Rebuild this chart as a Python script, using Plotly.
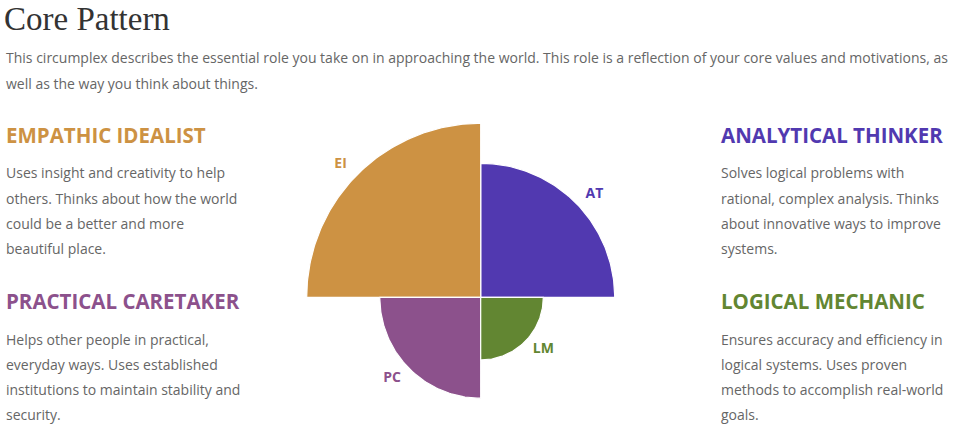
import numpy as np
import plotly.graph_objects as go

W, H = 963, 438

# ---- data ----
codes = ["AT", "EI", "PC", "LM"]
scores = [77, 100, 58, 36]
quad_start = [0, 90, 180, 270]          # degrees, counter-clockwise from east
colors = ["#5139B0", "#CD9243", "#8C518C", "#628632"]
label_theta = [42, 136.5, 222.5, 320]

title = "Core Pattern"
intro = [
    "This circumplex describes the essential role you take on in approaching the world. This role is a reflection of your core values and motivations, as",
    "well as the way you think about things.",
]
headings = ["ANALYTICAL THINKER", "EMPATHIC IDEALIST", "PRACTICAL CARETAKER", "LOGICAL MECHANIC"]
descs = [
    ["Solves logical problems with", "rational, complex analysis. Thinks", "about innovative ways to improve", "systems."],
    ["Uses insight and creativity to help", "others. Thinks about how the world", "could be a better and more", "beautiful place."],
    ["Helps other people in practical,", "everyday ways. Uses established", "institutions to maintain stability and", "security."],
    ["Ensures accuracy and efficiency in", "logical systems. Uses proven", "methods to accomplish real-world", "goals."],
]

# ---- geometry ----
cx, cy = 480.7, 297.3          # centre of circumplex in px (from top-left)
px_per_unit = 174 / 100.0

fig = go.Figure()
for s, a0, c in zip(scores, quad_start, colors):
    t = np.radians(np.linspace(a0, a0 + 90, 91))
    xs = np.concatenate([[0], s * np.cos(t), [0]])
    ys = np.concatenate([[0], s * np.sin(t), [0]])
    fig.add_trace(go.Scatter(
        x=xs, y=ys, mode="lines", fill="toself", fillcolor=c,
        line=dict(color="white", width=1.2), hoverinfo="skip", showlegend=False,
    ))

lab_r = np.array(scores) + 11
lab_t = np.radians(label_theta)
fig.add_trace(go.Scatter(
    x=lab_r * np.cos(lab_t), y=lab_r * np.sin(lab_t), mode="text", text=codes,
    textfont=dict(family="Open Sans", size=14, color=colors, weight="bold"),
    hoverinfo="skip", showlegend=False,
))

fig.update_layout(
    width=W, height=H, margin=dict(l=0, r=0, t=0, b=0),
    paper_bgcolor="white", plot_bgcolor="white",
    xaxis=dict(range=[-cx / px_per_unit, (W - cx) / px_per_unit], visible=False, fixedrange=True),
    yaxis=dict(range=[-(H - cy) / px_per_unit, cy / px_per_unit], visible=False, fixedrange=True),
)

def ann(text, x, y, size, color, family="Open Sans", weight=None, yanchor="middle", pad=1):
    fig.add_annotation(
        text=text, x=x / W, y=1 - y / H, xref="paper", yref="paper",
        xanchor="left", yanchor=yanchor, showarrow=False, borderpad=pad,
        font=dict(family=family, size=size, color=color, **({"weight": weight} if weight else {})),
    )

ann(title, 3, 0, 33, "#333333", family="Liberation Serif", yanchor="top", pad=0)
for i, line in enumerate(intro):
    ann(line, 4, 58 + 25 * i, 14, "#666666")

pos = [(719, 135), (4, 135), (4, 301), (719, 301)]
for (x, y), h, d, c in zip(pos, headings, descs, colors):
    ann(h, x, y, 20.5, c, weight="bold")
    for j, line in enumerate(d):
        ann(line, x, y + 38 + 25 * j, 14, "#666666")

fig.write_html("out.html")
